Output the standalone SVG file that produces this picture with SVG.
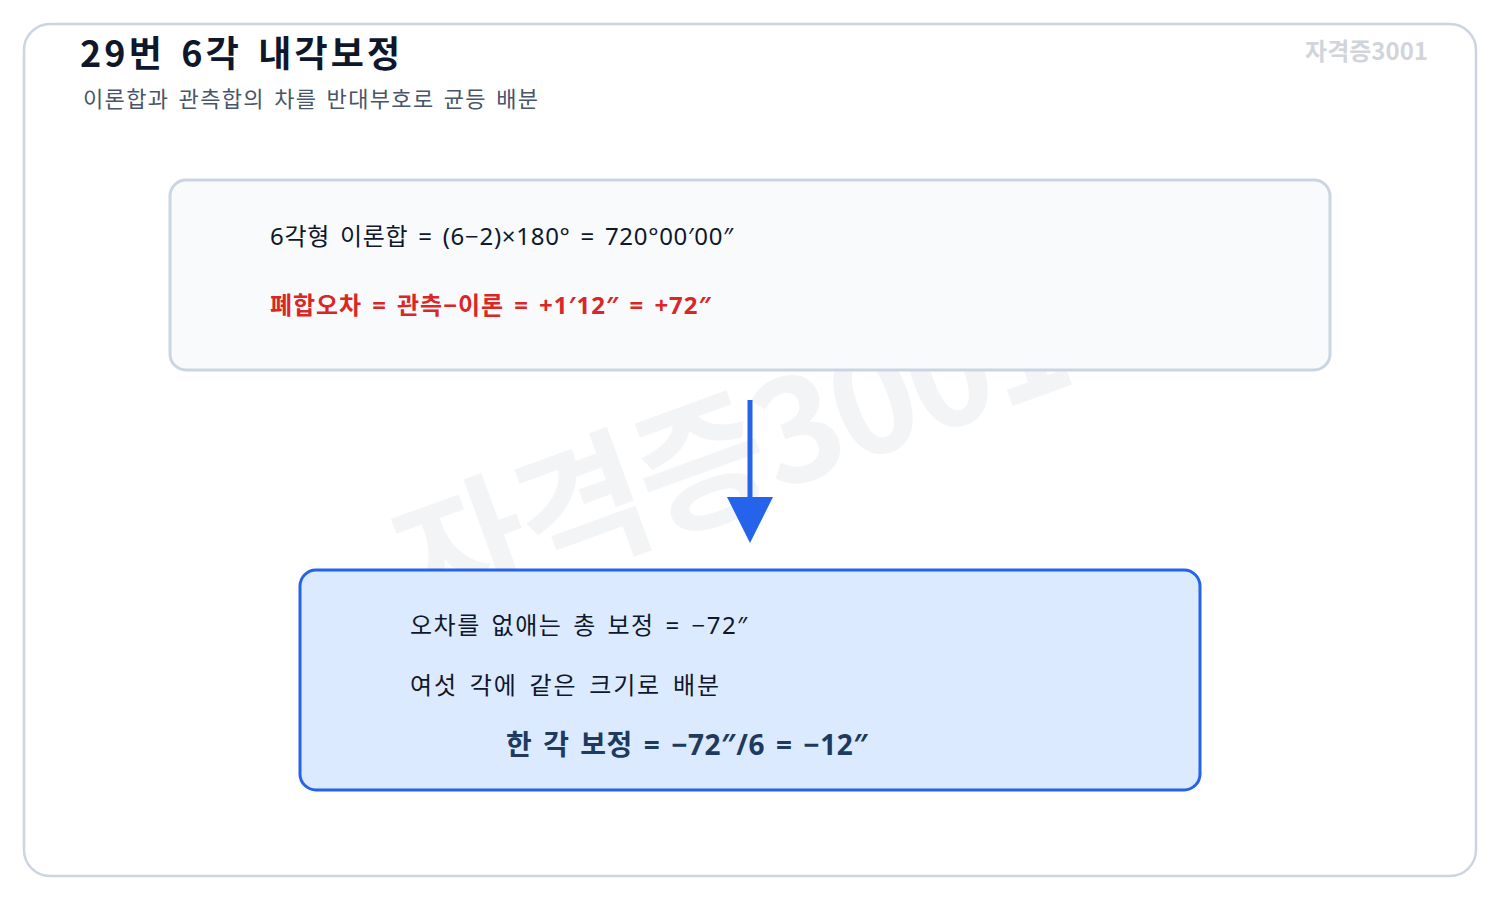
<svg xmlns="http://www.w3.org/2000/svg" width="1500" height="900" viewBox="0 0 1500 900">
<style>
text{font-family:"Noto Sans","Noto Sans CJK KR",sans-serif;word-spacing:3px;}
.cjk{font-family:"Noto Sans CJK KR","Noto Sans",sans-serif;}
.body{font-size:24px;fill:#0f172a;}
.red{font-size:24px;font-weight:700;fill:#dc2626;}
.key{font-size:28px;font-weight:700;fill:#1e3a5f;}
</style>
<rect x="24" y="24" width="1452" height="852" rx="26" fill="#ffffff" stroke="#cbd5e1" stroke-width="2.5"/>
<text class="cjk" x="735" y="466" text-anchor="middle" dominant-baseline="middle" transform="rotate(-20 735 466)" font-size="142" font-weight="700" fill="#f3f4f6" style="word-spacing:0;letter-spacing:-4px">자격증3001</text>
<g id="title">
<text class="cjk" x="80" y="67" font-size="36" font-weight="700" fill="#0f172a" style="word-spacing:5px" textLength="320" lengthAdjust="spacing">29번 6각 내각보정</text>
<text class="cjk" x="83" y="107" font-size="22" fill="#475569" textLength="455" lengthAdjust="spacing">이론합과 관측합의 차를 반대부호로 균등 배분</text>
<text class="cjk" x="1428" y="60" font-size="24" font-weight="700" fill="#d1d5db" text-anchor="end" style="word-spacing:0">자격증3001</text>
</g>
<g id="node-sum">
<rect x="170" y="180" width="1160" height="190" rx="16" fill="#f8fafc" stroke="#cbd5e1" stroke-width="3"/>
<text class="body" x="270" y="245" textLength="463" lengthAdjust="spacing">6각형 이론합 = (6−2)×180° = 720°00′00″</text>
<text class="red" x="270" y="314" textLength="441" lengthAdjust="spacing">폐합오차 = 관측−이론 = +1′12″ = +72″</text>
</g>
<g id="connectors">
<line x1="750" y1="400" x2="750" y2="500" stroke="#2563eb" stroke-width="5"/>
<polygon points="727,497 773,497 750,543" fill="#2563eb"/>
</g>
<g id="node-corr">
<rect x="300" y="570" width="900" height="220" rx="16" fill="#dbeafe" stroke="#2563eb" stroke-width="3"/>
<text class="body" x="410" y="634" textLength="337" lengthAdjust="spacing">오차를 없애는 총 보정 = −72″</text>
<text class="body" x="410" y="694" style="word-spacing:4px" textLength="309" lengthAdjust="spacing">여섯 각에 같은 크기로 배분</text>
<text class="key" x="506" y="755" textLength="362" lengthAdjust="spacing">한 각 보정 = −72″/6 = −12″</text>
</g>
</svg>
